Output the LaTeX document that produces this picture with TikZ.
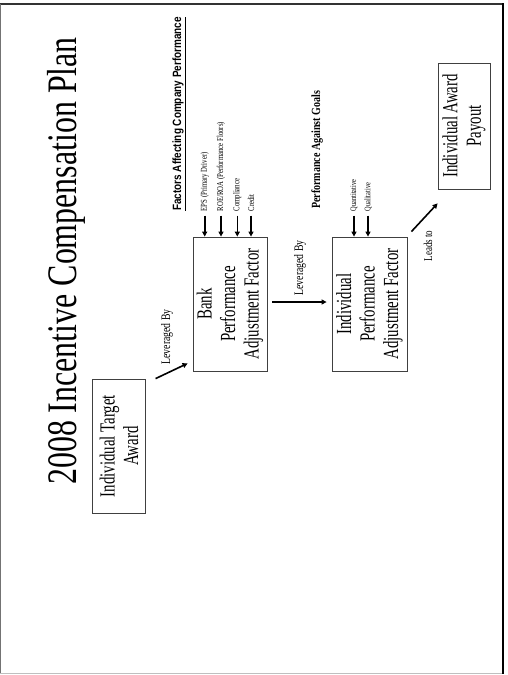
\documentclass[tikz,border=0pt]{standalone}
\usepackage{fontspec}
\setmainfont{Liberation Serif}
\newfontfamily\cs[FakeStretch=0.75]{Liberation Serif}
\newfontfamily\cb[FakeStretch=0.69]{Liberation Serif}
\newfontfamily\ct[FakeStretch=0.76]{Liberation Serif}
\newfontfamily\csb[FakeStretch=0.8]{Liberation Serif}
\newfontfamily\csans[FakeStretch=0.83]{Liberation Sans}
\usetikzlibrary{calc,arrows.meta}
\begin{document}
\begin{tikzpicture}[x=1pt,y=-1pt,
 box/.style={draw=black!75, line width=0.8pt, rotate=90, align=center, inner sep=0pt, font=\cb\fontsize{21.5}{23.5}\selectfont},
 lbl/.style={rotate=90, inner sep=0pt, anchor=west, font=\cs\fontsize{9}{10}\selectfont},
 clbl/.style={rotate=90, inner sep=0pt, font=\cs\fontsize{13}{15}\selectfont},
 arr/.style={line width=1.6pt, -{Triangle[length=5pt,width=5pt]}},
]
\useasboundingbox (0,0) rectangle (507,675);
% frame
\draw[black!80, line width=1.7pt] (0,4) -- (503,4);
\draw[black!55, line width=1pt] (0.5,4) -- (0.5,673);
\draw[black!25, line width=1pt] (0,673.3) -- (503,673.3);
\draw[black, line width=2pt] (502.5,3) -- (502.5,674);
% title
\node[rotate=90, inner sep=0pt, font=\ct\fontsize{42}{46}\selectfont] (title) at (66,261) {2008 Incentive Compensation Plan};
% boxes
\node[box, minimum width=134pt, minimum height=52.3pt] (t) at (119,446) {Individual Target\\Award};
\node[box, minimum width=134pt, minimum height=74pt] (b) at (230,304) {Bank\\Performance\\Adjustment Factor};
\node[box, minimum width=134pt, minimum height=75pt] (i) at (369.5,304) {Individual\\Performance\\Adjustment Factor};
\node[box, minimum width=126pt, minimum height=52pt] (p) at (464,126) {Individual Award\\Payout};
% headings
\node[rotate=90, anchor=west, inner sep=0pt, font=\csans\bfseries\fontsize{12}{14}\selectfont] (fac) at (179,211) {\underline{Factors Affecting Company Performance}};
\node[rotate=90, anchor=west, inner sep=0pt, font=\csb\bfseries\fontsize{12.5}{14}\selectfont] (pag) at (317,209) {Performance Against Goals};
% input labels
\node[lbl] (eps) at (204.7,211.5) {EPS (Primary Driver)};
\node[lbl] (roe) at (221,211.5) {ROE/ROA (Performance Floors)};
\node[lbl] (comp) at (237.3,211.5) {Compliance};
\node[lbl] (cred) at (251,211.5) {Credit};
\node[lbl, font=\cs\fontsize{8.5}{10}\selectfont] (quan) at (354,211.5) {Quantitative};
\node[lbl, font=\cs\fontsize{8.5}{10}\selectfont] (qual) at (368,211.5) {Qualitative};
% input arrows
\foreach \n in {eps,roe,comp,cred}{\draw[arr, shorten <=4pt] (\n.west) -- (\n.west |- b.east);}
\foreach \n in {quan,qual}{\draw[arr, shorten <=4pt] (\n.west) -- (\n.west |- i.east);}
% connector labels
\node[clbl] (lv1) at (167,337) {Leveraged By};
\node[clbl] (lv2) at (300,268) {Leveraged By};
\node[clbl, font=\cs\fontsize{12}{14}\selectfont] (lt) at (428,246) {Leads to};
% connectors
\coordinate (a1s) at ($(t.south east)+(10,0)$);
\coordinate (a1e) at ($(b.north west)+(-5,-8)$);
\draw[arr] (a1s) -- (a1e);
\draw[arr] ([xshift=5pt,yshift=2pt]b.south) -- ([xshift=-5pt,yshift=2pt]i.north);
\coordinate (a3s) at ($(i.south east)+(4,-5)$);
\coordinate (a3e) at ($(p.north west)+(0,14)$);
\draw[arr] (a3s) -- (a3e);
\end{tikzpicture}
\end{document}
